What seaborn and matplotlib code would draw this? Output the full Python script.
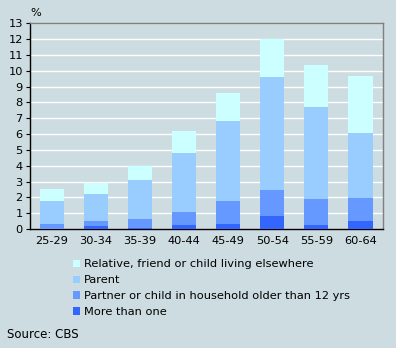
import matplotlib
matplotlib.use("Agg")
import matplotlib.pyplot as plt
import seaborn as sns
import numpy as np
import pandas as pd
from matplotlib.patches import Patch

categories = ["25-29", "30-34", "35-39", "40-44", "45-49", "50-54", "55-59", "60-64"]
more_than_one = [0.0, 0.2, 0.07, 0.25, 0.32, 0.82, 0.27, 0.5]
partner_child = [0.33, 0.3, 0.56, 0.82, 1.45, 1.64, 1.63, 1.46]
parent = [1.44, 1.7, 2.47, 3.73, 5.06, 7.14, 5.8, 4.11]
relative = [0.75, 0.7, 0.88, 1.4, 1.77, 2.4, 2.67, 3.6]

series_names = ["More than one", "Partner or child in household older than 12 yrs",
                "Parent", "Relative, friend or child living elsewhere"]
series_vals = [more_than_one, partner_child, parent, relative]
colors = ["#3366ff", "#6699ff", "#99ccff", "#ccffff"]
bg = "#ccdce0"

sns.set_theme(style="white")
plt.rcParams['font.family'] = ['DejaVu Sans']
plt.rcParams['text.color'] = 'black'
plt.rcParams['xtick.color'] = 'black'
plt.rcParams['ytick.color'] = 'black'

fig = plt.figure(figsize=(3.96, 3.48), dpi=100, facecolor=bg)
ax = fig.add_axes([0.075, 0.342, 0.891, 0.591])
ax.set_facecolor(bg)

cum = np.cumsum(np.array(series_vals), axis=0)
# draw tallest first so lower segments overlay
for i in range(len(series_vals) - 1, -1, -1):
    df = pd.DataFrame({"cat": categories, "val": cum[i]})
    sns.barplot(data=df, x="cat", y="val", color=colors[i], saturation=1,
                width=0.545, ax=ax, zorder=3, linewidth=0)

ax.set_xlim(-0.5, 7.5)
ax.set_ylim(0, 13)
ax.set_yticks(range(0, 14))
ax.yaxis.grid(True, color="white", linewidth=1.0, zorder=0)
ax.set_axisbelow(True)
ax.set_xlabel("")
ax.set_ylabel("")
ax.tick_params(axis="y", length=3, width=0.8, color="black", labelsize=8.2, pad=2, left=True,
               labelcolor="black")
ax.tick_params(axis="x", length=0, labelsize=8.2, pad=5, labelcolor="black")
for s in ["left", "bottom"]:
    ax.spines[s].set_color("black")
    ax.spines[s].set_linewidth(1.0)
for s in ["top", "right"]:
    ax.spines[s].set_color("#808080")
    ax.spines[s].set_linewidth(1.0)
    ax.spines[s].set_visible(True)

fig.text(30 / 396, 1 - 13 / 348, "%", fontsize=8.2, va="center", ha="left", color="black")

handles = [Patch(facecolor=colors[i], edgecolor="none") for i in [3, 2, 1, 0]]
labels = [series_names[i] for i in [3, 2, 1, 0]]
leg = fig.legend(handles, labels, loc="upper left", bbox_to_anchor=(71 / 396, 1 - 257 / 348),
                 frameon=False, fontsize=8.2, handlelength=0.62, handleheight=0.62,
                 handletextpad=0.3, labelspacing=0.52, borderaxespad=0, borderpad=0.2)
for t in leg.get_texts():
    t.set_color("black")

fig.text(7 / 396, 1 - 335 / 348, "Source: CBS", fontsize=8.5, va="center", ha="left", color="black")

fig.savefig("out.png", dpi=100, facecolor=bg)
